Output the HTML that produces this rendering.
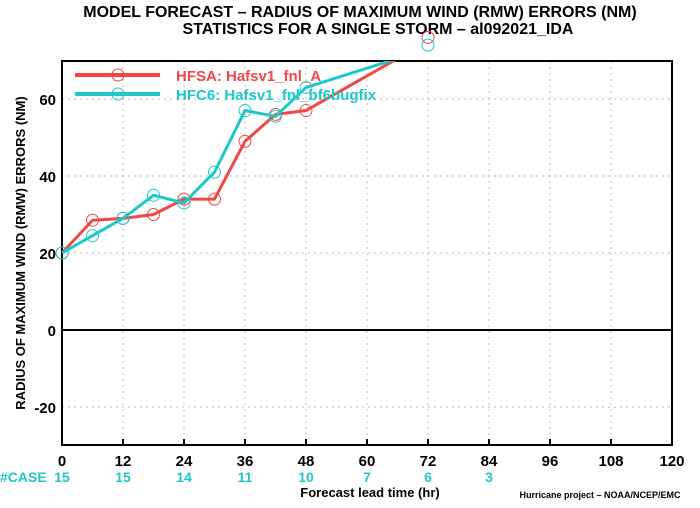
<!DOCTYPE html>
<html><head><meta charset="utf-8"><style>
body{margin:0;background:#fff;}
svg text{font-family:"Liberation Sans",sans-serif;font-weight:bold;}
</style></head><body>
<svg id="c" width="700" height="503">
<defs><clipPath id="clip"><rect x="62" y="61" width="610" height="384"/></clipPath></defs>
<text x="360" y="17" text-anchor="middle" font-size="16">MODEL FORECAST – RADIUS OF MAXIMUM WIND (RMW) ERRORS (NM)</text>
<text x="378" y="34" text-anchor="middle" font-size="16">STATISTICS FOR A SINGLE STORM – al092021_IDA</text>
<g id="grid"></g>
<rect x="62" y="61" width="610" height="384" fill="none" stroke="#000" stroke-width="2"/>
<g id="axes"></g>
<g id="series"></g>
<text x="25" y="253" text-anchor="middle" font-size="13" transform="rotate(-90 25 253)">RADIUS OF MAXIMUM WIND (RMW) ERRORS (NM)</text>
<text x="370" y="497" text-anchor="middle" font-size="13">Forecast lead time (hr)</text>
<text x="600" y="498" text-anchor="middle" font-size="9">Hurricane project – NOAA/NCEP/EMC</text>
<text x="0" y="482" font-size="14" fill="#1ec8c8">#CASE</text>
<g>
<line x1="75" y1="75" x2="160" y2="75" stroke="#f04848" stroke-width="4"/><circle cx="118" cy="75" r="6" fill="none" stroke="#f04848"/>
<text x="176" y="81" font-size="15" fill="#f04848">HFSA: Hafsv1_fnl_A</text>
<line x1="75" y1="94" x2="160" y2="94" stroke="#1ec8c8" stroke-width="4"/><circle cx="118" cy="94" r="6" fill="none" stroke="#1ec8c8"/>
<text x="176" y="100" font-size="15" fill="#1ec8c8">HFC6: Hafsv1_fnl_bf6bugfix</text>
</g>
</svg>
<script>
const hours=[0,6,12,18,24,30,36,42,48,54,60,66,72];
const hfsa=[20,28.5,29,30,34,34,49,56,57,61.5,66,70.5,76];
const hfc6=[20,24.5,29,35,33,41,57,55.5,63,65.5,68,70.5,74];
const markerHours=[0,6,12,18,24,30,36,42,48,72];
const xTicks=[0,12,24,36,48,60,72,84,96,108,120];
const yTicks=[-20,0,20,40,60];
const caseHours=[0,12,24,36,48,60,72,84];
const caseCounts=[15,15,14,11,10,7,6,3];
const X=h=>62+h*(610/120), Y=v=>330-v*3.85;
const NS="http://www.w3.org/2000/svg";
function mk(p,t,a){const e=document.createElementNS(NS,t);for(const k in a)e.setAttribute(k,a[k]);p.appendChild(e);return e;}
const g=document.getElementById('grid'),ax=document.getElementById('axes'),s=document.getElementById('series'),svg=document.getElementById('c');
xTicks.forEach(t=>{
 if(t>0&&t<120){const l=mk(g,'line',{x1:X(t),x2:X(t),y1:61,y2:445,stroke:'#bbb','stroke-dasharray':'2,4'});
 
 }
 mk(ax,'line',{x1:X(t),x2:X(t),y1:445,y2:439,stroke:'#000','stroke-width':2});
 const tx=mk(ax,'text',{x:X(t),y:466,'text-anchor':'middle','font-size':15});tx.textContent=t;
 
 
});
yTicks.forEach(v=>{
 if(v!==0){const l=mk(g,'line',{x1:62,x2:672,y1:Y(v),y2:Y(v),stroke:'#bbb','stroke-dasharray':'2,4'});
 
 }
 const tx=mk(ax,'text',{x:56,y:Y(v)+6,'text-anchor':'end','font-size':15});tx.textContent=v;
 
 
});
const z=mk(ax,'line',{x1:62,x2:672,y1:Y(0),y2:Y(0),stroke:'#000','stroke-width':2});


caseHours.forEach((h,i)=>{const tx=mk(svg,'text',{x:X(h),y:482,'text-anchor':'middle','font-size':14,fill:'#1ec8c8'});tx.textContent=caseCounts[i];
 
 });
function draw(vals,col,name){
 const pts=hours.slice(0,12).map((h,i)=>X(h)+','+Y(vals[i])).join(' ');
 const pl=mk(s,'polyline',{points:pts,fill:'none',stroke:col,'stroke-width':3,'clip-path':'url(#clip)'});
 
 
 hours.forEach((h,i)=>{if(markerHours.indexOf(h)<0)return;const y=Y(vals[i]);const c=mk(s,'circle',{cx:X(h),cy:y,r:6,fill:'none',stroke:col,'stroke-width':1});
 
 });
}
draw(hfsa,'#f04848','hfsa');
draw(hfc6,'#1ec8c8','hfc6');
</script>
</body></html>
